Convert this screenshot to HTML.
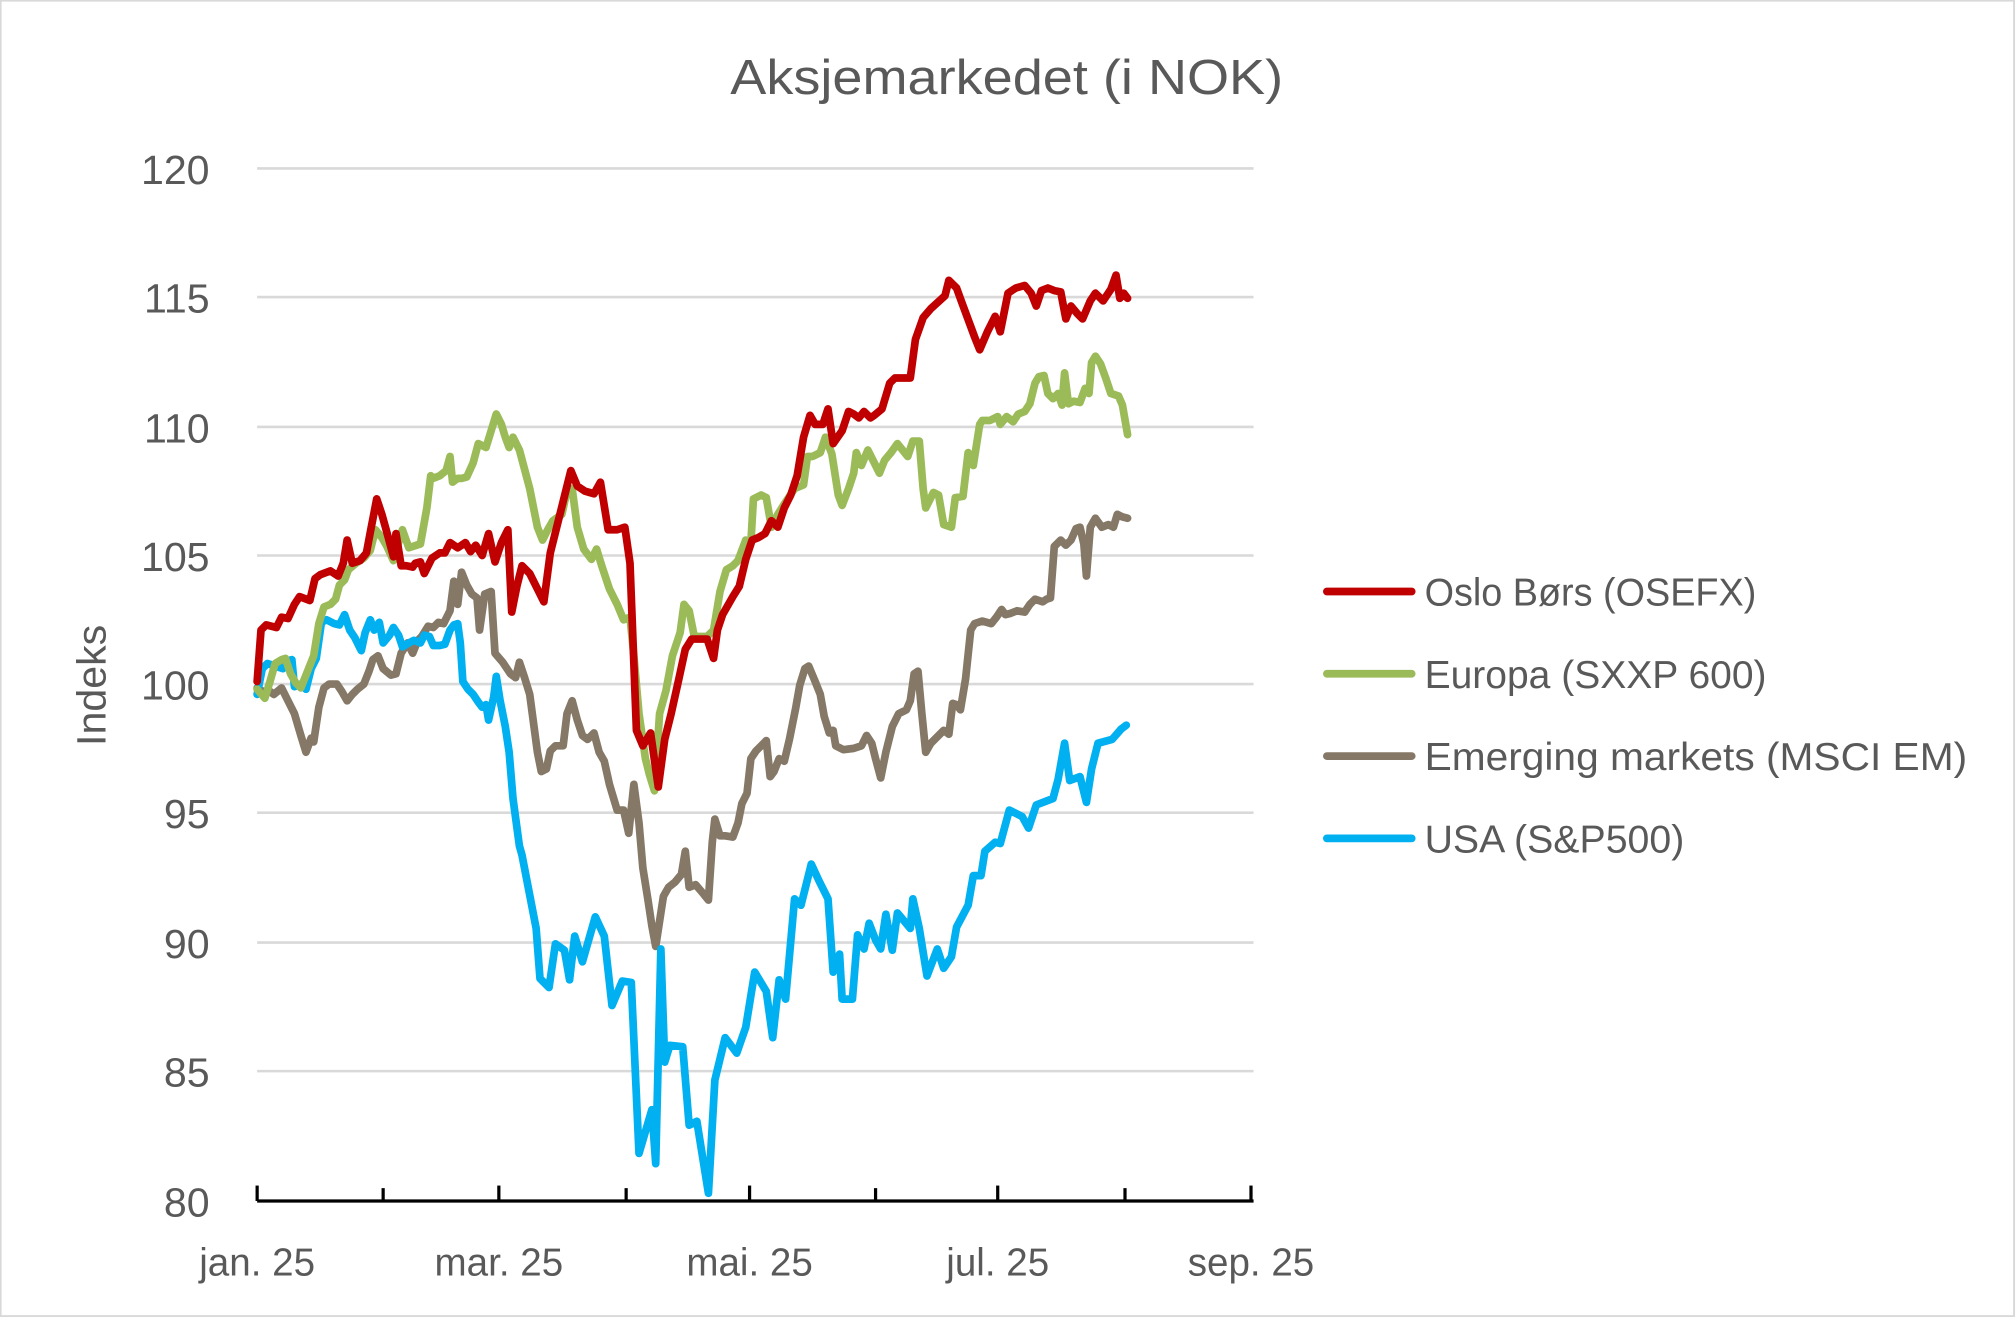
<!DOCTYPE html>
<html><head><meta charset="utf-8"><style>
html,body{margin:0;padding:0;background:#fff;}
svg{display:block;}
text{font-family:"Liberation Sans",sans-serif;fill:#595959;}
</style></head><body>
<svg width="2016" height="1318" viewBox="0 0 1568 1025" preserveAspectRatio="none" xmlns="http://www.w3.org/2000/svg">
<rect x="0.5" y="0.5" width="1566" height="1023" fill="#fff" stroke="#d9d9d9" stroke-width="1.5"/>
<text x="783" y="73" font-size="38" text-anchor="middle" textLength="430" lengthAdjust="spacingAndGlyphs">Aksjemarkedet (i NOK)</text>
<g stroke="#d9d9d9" stroke-width="2">
<line x1="200" y1="131" x2="975" y2="131"/><line x1="200" y1="231" x2="975" y2="231"/>
<line x1="200" y1="332" x2="975" y2="332"/><line x1="200" y1="432" x2="975" y2="432"/>
<line x1="200" y1="532" x2="975" y2="532"/><line x1="200" y1="632" x2="975" y2="632"/>
<line x1="200" y1="733" x2="975" y2="733"/><line x1="200" y1="833" x2="975" y2="833"/>
</g>
<g stroke="#000" stroke-width="2.5">
<line x1="200" y1="934" x2="975" y2="934"/>
<line x1="200" y1="922" x2="200" y2="934"/><line x1="298" y1="924" x2="298" y2="934"/><line x1="388" y1="922" x2="388" y2="934"/><line x1="487" y1="924" x2="487" y2="934"/><line x1="583" y1="922" x2="583" y2="934"/><line x1="681" y1="924" x2="681" y2="934"/><line x1="776" y1="922" x2="776" y2="934"/><line x1="875" y1="924" x2="875" y2="934"/><line x1="973" y1="922" x2="973" y2="934"/>
</g>
<g font-size="32" text-anchor="end">
<text x="163" y="143">120</text><text x="163" y="243">115</text><text x="163" y="344">110</text><text x="163" y="444">105</text><text x="163" y="544">100</text><text x="163" y="644">95</text><text x="163" y="745">90</text><text x="163" y="845">85</text><text x="163" y="946">80</text>
</g>
<g font-size="30" text-anchor="middle">
<text x="200" y="992">jan. 25</text><text x="388" y="992">mar. 25</text><text x="583" y="992">mai. 25</text><text x="776" y="992">jul. 25</text><text x="973" y="992">sep. 25</text>
</g>
<text x="0" y="0" font-size="32" text-anchor="middle" transform="translate(82,533) rotate(-90)">Indeks</text>
<g fill="none" stroke-width="6" stroke-linejoin="round" stroke-linecap="round">
<polyline stroke="#857866" points="200,535 205,538 209,537 213,540 219,535 224,545 229,555 234,572 238,585 242,574 244,577 248,550 252,535 256,532 262,532 266,538 270,545 274,540 278,536 283,532 287,522 290,513 294,510 298,520 304,525 308,524 312,508 317,500 321,508 325,498 328,495 333,487 337,488 341,484 345,485 350,475 353,452 356,470 359,445 363,455 367,462 371,465 373,490 377,462 382,460 385,508 391,515 397,524 401,527 404,515 408,527 412,540 418,585 421,600 425,598 428,584 432,580 438,580 441,555 445,545 449,560 453,572 457,575 462,570 466,585 470,592 474,610 480,630 485,630 489,648 493,610 497,640 500,675 504,700 507,720 510,736 514,710 516,697 520,690 525,686 530,680 533,662 536,690 541,688 547,695 551,700 554,655 556,637 560,650 564,650 570,651 574,640 577,625 581,617 584,590 588,584 592,580 596,576 599,604 602,600 606,590 610,592 614,575 619,550 622,533 626,520 629,518 634,530 638,540 641,557 645,570 648,568 650,580 656,583 664,582 670,580 674,572 678,578 681,590 685,605 689,585 694,565 699,555 705,552 708,545 711,524 714,522 717,555 720,585 724,578 730,572 734,568 738,571 741,547 744,548 747,552 751,528 755,490 758,485 764,483 771,485 775,480 779,474 782,478 786,477 791,475 797,476 801,470 805,466 811,468 814,466 817,465 820,425 825,420 829,424 833,420 837,411 840,410 843,423 845,448 848,410 852,403 857,410 862,408 866,410 869,400 873,402 877,403"/>
<polyline stroke="#00B0F0" points="200,540 204,520 208,516 214,518 220,520 224,514 227,513 229,534 234,532 238,536 242,520 246,512 250,484 254,482 260,485 264,486 268,478 272,490 276,496 281,506 284,492 288,482 291,490 295,484 298,500 303,494 306,488 310,494 313,503 318,500 322,498 327,500 330,494 334,495 337,502 342,502 346,501 350,490 353,486 356,485 358,500 360,530 364,536 368,540 372,546 375,550 378,548 380,560 384,542 386,526 389,545 393,565 396,585 399,621 404,658 406,665 417,722 420,761 427,768 432,734 439,739 443,762 447,728 453,748 463,713 470,728 476,782 484,763 491,764 497,897 507,863 510,905 514,738 517,826 521,813 531,814 536,875 542,872 551,928 556,840 564,807 573,819 580,799 587,756 596,771 601,807 606,762 611,777 618,699 623,704 631,672 637,685 644,699 648,756 653,742 655,777 663,777 667,727 672,738 676,718 681,731 685,738 689,711 694,739 698,710 708,722 710,699 715,722 721,759 729,738 734,753 740,744 744,721 753,704 757,681 763,681 766,662 774,655 778,656 785,630 795,635 800,644 806,626 819,621 823,606 828,578 832,607 840,604 845,624 849,598 854,578 865,575 872,567 876,564"/>
<polyline stroke="#9BBB59" points="200,536 206,543 210,530 214,516 219,513 222,512 226,524 230,531 234,535 240,520 244,510 248,485 252,472 257,470 261,466 264,455 268,451 271,443 277,438 283,434 288,428 292,412 297,418 301,425 306,436 310,422 313,412 318,426 324,424 327,423 332,395 335,370 337,372 342,370 347,366 350,355 352,375 356,372 359,372 363,371 368,360 372,345 378,348 382,335 386,322 390,330 393,340 396,348 399,340 404,350 412,380 418,410 422,420 426,412 430,405 437,400 441,382 445,380 449,410 454,427 460,435 464,427 468,440 474,458 480,470 485,482 490,480 493,510 497,555 502,590 505,602 509,615 513,555 518,537 523,510 529,492 532,470 536,475 540,495 550,495 555,490 560,460 565,443 570,440 574,436 580,420 584,422 586,388 592,385 596,387 600,410 605,400 610,392 618,380 625,377 628,355 632,355 638,352 642,340 647,353 652,385 655,393 660,380 664,368 666,352 670,362 675,350 680,360 684,368 688,358 693,352 698,345 702,350 706,355 710,343 715,343 718,380 720,395 726,383 730,385 734,408 740,410 743,387 749,386 753,352 757,362 762,330 764,327 770,327 776,324 778,330 783,324 788,328 792,322 797,320 801,314 805,298 808,293 812,292 815,306 819,310 823,306 826,315 828,290 831,314 835,312 840,313 844,302 847,306 849,282 852,277 856,283 860,294 864,306 870,308 873,315 877,338"/>
<polyline stroke="#C00000" points="200,530 203,490 207,486 215,488 219,480 224,481 229,470 233,464 241,467 245,450 249,447 257,444 263,448 267,438 270,420 274,438 280,436 285,430 288,414 293,388 297,400 302,418 306,433 308,415 312,440 316,440 321,441 323,438 327,437 330,446 336,434 342,430 346,430 350,422 356,426 362,422 366,429 370,424 375,432 380,415 385,437 390,422 395,412 398,476 402,456 406,440 412,446 418,458 423,468 428,430 433,410 438,390 444,366 449,378 455,382 462,384 467,375 473,412 480,412 486,410 490,438 495,568 500,580 506,570 512,612 517,575 522,555 528,528 533,505 538,497 550,497 555,512 558,490 562,478 570,464 575,456 580,435 585,420 590,418 595,415 600,405 605,410 610,395 615,385 620,370 625,340 630,323 634,330 640,330 644,318 648,345 655,335 660,320 664,322 668,325 672,320 677,325 680,323 686,318 692,298 696,294 708,294 712,264 718,247 724,240 735,230 738,218 744,224 748,235 758,262 762,272 768,258 774,246 778,258 784,228 790,224 797,222 802,228 806,238 810,226 815,224 820,226 825,227 829,248 833,238 838,244 842,248 848,234 852,228 858,234 864,225 868,214 871,232 874,228 877,232"/>
</g>
<g stroke-width="6" stroke-linecap="round">
<line x1="1032" y1="460" x2="1098" y2="460" stroke="#C00000"/>
<line x1="1032" y1="524" x2="1098" y2="524" stroke="#9BBB59"/>
<line x1="1032" y1="588" x2="1098" y2="588" stroke="#857866"/>
<line x1="1032" y1="652" x2="1098" y2="652" stroke="#00B0F0"/>
</g>
<g font-size="30">
<text x="1108" y="471" textLength="258" lengthAdjust="spacingAndGlyphs">Oslo Børs (OSEFX)</text>
<text x="1108" y="535" textLength="266" lengthAdjust="spacingAndGlyphs">Europa (SXXP 600)</text>
<text x="1108" y="599" textLength="422" lengthAdjust="spacingAndGlyphs">Emerging markets (MSCI EM)</text>
<text x="1108" y="663" textLength="202" lengthAdjust="spacingAndGlyphs">USA (S&amp;P500)</text>
</g>
</svg>
</body></html>
